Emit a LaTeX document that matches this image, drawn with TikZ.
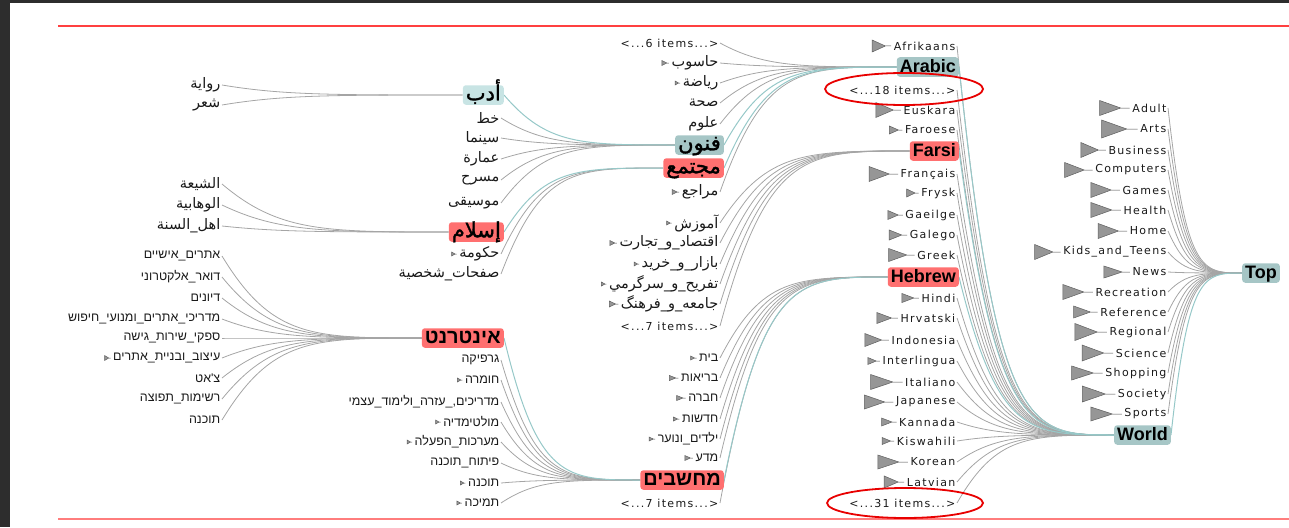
\documentclass[tikz,border=0pt]{standalone}
\usepackage{fontspec}
\usepackage{xcolor}
\usepackage{tikz}
\usetikzlibrary{calc,backgrounds}
\TeXXeTstate=1
\setmainfont{DejaVu Sans}[LetterSpace=12]
\newfontfamily\arabicfont[Script=Arabic]{DejaVu Sans}
\newfontfamily\arabicbold[Script=Arabic,FakeBold=1.6]{DejaVu Sans}
\newfontfamily\hebfont[Script=Hebrew]{Liberation Sans}
\newfontfamily\boldlat{Liberation Sans}
\newcommand\rtl[1]{\beginR#1\endR}
\definecolor{framedark}{RGB}{45,45,45}
\definecolor{rulered}{RGB}{255,64,64}
\definecolor{rulepink}{RGB}{255,125,125}
\definecolor{edgegray}{RGB}{165,165,165}
\definecolor{edgeteal}{RGB}{150,200,200}
\definecolor{boxteal}{RGB}{166,198,198}
\definecolor{boxlightteal}{RGB}{200,228,228}
\definecolor{boxred}{RGB}{255,112,112}
\definecolor{flaggray}{RGB}{150,150,150}
\definecolor{flagline}{RGB}{95,95,95}
\definecolor{textdark}{RGB}{25,25,25}
\definecolor{ringred}{RGB}{232,0,0}
\tikzset{
  lat-item/.style={anchor=east, inner sep=1.5pt, text=textdark,
    font=\fontsize{11}{13}\selectfont},
  ar-item/.style={anchor=east, inner sep=1.5pt, text=textdark,
    font=\fontsize{14.5}{16}\arabicfont},
  he-item/.style={anchor=east, inner sep=1.5pt, text=textdark,
    font=\fontsize{12.5}{14}\hebfont},
  parent-box/.style={anchor=east, rounded corners=3pt, inner xsep=3pt,
    inner ysep=3pt, text height=12pt, text depth=1.5pt, text=black},
  teal-parent/.style={parent-box, fill=boxteal, font=\fontsize{18}{20}\boldlat\bfseries},
  red-parent/.style={parent-box, fill=boxred, font=\fontsize{18}{20}\boldlat\bfseries},
  ar-teal-parent/.style={parent-box, fill=boxteal, font=\fontsize{21}{23}\arabicbold},
  ar-light-parent/.style={parent-box, fill=boxlightteal, font=\fontsize{21}{23}\arabicbold},
  ar-red-parent/.style={parent-box, fill=boxred, font=\fontsize{21}{23}\arabicbold},
  he-red-parent/.style={parent-box, fill=boxred, font=\fontsize{20}{22}\hebfont\bfseries},
  link-edge/.style={draw=edgegray, line width=0.8pt,
    to path={let \p1=(\tikztostart), \p2=(\tikztotarget) in
      .. controls ({\x1+0.25*(\x2-\x1)},\y2) and ({\x1+0.45*(\x2-\x1)},\y2) .. (\tikztotarget)}},
  focus-edge/.style={link-edge, draw=edgeteal, line width=1pt},
  flag-mark/.style={fill=flaggray, draw=flagline, line width=0.5pt, line join=miter},
  mark-ring/.style={draw=ringred, line width=1.8pt}
}

\begin{document}
\begin{tikzpicture}[x=1pt, y=-1pt]
\useasboundingbox (0,0) rectangle (1289,527);
% window frame and rules
\fill[framedark] (0,0) rectangle (10,527);
\fill[framedark] (0,0) rectangle (1289,3);
\draw[rulered, line width=1.6pt] (58,26) -- (1289,26);
\draw[rulepink, line width=2pt] (58,519) -- (1289,519);

% Root and its children
\node[teal-parent] (top) at (1280,273) {Top};
\node[lat-item] (adult) at (1168,108) {Adult};
\node[lat-item] (arts) at (1168,129) {Arts};
\node[lat-item] (business) at (1168,150) {Business};
\node[lat-item] (computers) at (1168,170) {Computers};
\node[lat-item] (games) at (1168,190) {Games};
\node[lat-item] (health) at (1168,210) {Health};
\node[lat-item] (home) at (1168,231) {Home};
\node[lat-item] (kids) at (1168,252) {Kids\_and\_Teens};
\node[lat-item] (news) at (1168,272) {News};
\node[lat-item] (recreation) at (1168,292) {Recreation};
\node[lat-item] (reference) at (1168,312) {Reference};
\node[lat-item] (regional) at (1168,332) {Regional};
\node[lat-item] (science) at (1168,353) {Science};
\node[lat-item] (shopping) at (1168,373) {Shopping};
\node[lat-item] (society) at (1168,394) {Society};
\node[lat-item] (sports) at (1168,414) {Sports};
\node[teal-parent] (world) at (1171,435) {World};

% World's children
\node[lat-item] (afrikaans) at (957,46) {Afrikaans};
\node[teal-parent] (arabic) at (959,67) {Arabic};
\node[lat-item] (items18) at (957,90) {<...18 items...>};
\node[lat-item] (euskara) at (957,110) {Euskara};
\node[lat-item] (faroese) at (957,130) {Faroese};
\node[red-parent] (farsi) at (959,151) {Farsi};
\node[lat-item] (francais) at (957,174) {Français};
\node[lat-item] (frysk) at (957,193) {Frysk};
\node[lat-item] (gaeilge) at (957,215) {Gaeilge};
\node[lat-item] (galego) at (957,235) {Galego};
\node[lat-item] (greek) at (957,255) {Greek};
\node[red-parent] (hebrew) at (959,277) {Hebrew};
\node[lat-item] (hindi) at (957,298) {Hindi};
\node[lat-item] (hrvatski) at (957,318) {Hrvatski};
\node[lat-item] (indonesia) at (957,340) {Indonesia};
\node[lat-item] (interlingua) at (957,361) {Interlingua};
\node[lat-item] (italiano) at (957,382) {Italiano};
\node[lat-item] (japanese) at (957,402) {Japanese};
\node[lat-item] (kannada) at (957,422) {Kannada};
\node[lat-item] (kiswahili) at (957,441) {Kiswahili};
\node[lat-item] (korean) at (957,462) {Korean};
\node[lat-item] (latvian) at (957,482) {Latvian};
\node[lat-item] (items31) at (957,503) {<...31 items...>};

% Arabic, Farsi and Hebrew children
\node[lat-item] (aitems6) at (720,43) {<...6 items...>};
\node[ar-item] (hasub) at (720,63) {\rtl{حاسوب}};
\node[ar-item] (riyada) at (720,83) {\rtl{رياضة}};
\node[ar-item] (siha) at (720,103) {\rtl{صحة}};
\node[ar-item] (ulum) at (720,124) {\rtl{علوم}};
\node[ar-teal-parent] (funun) at (724,145) {\rtl{فنون}};
\node[ar-red-parent] (mujtama) at (724,168) {\rtl{مجتمع}};
\node[ar-item] (maraji) at (720,192) {\rtl{مراجع}};
\node[ar-item] (amuzesh) at (720,223) {\rtl{آموزش}};
\node[ar-item] (eqtesad) at (720,243) {\rtl{اقتصاد\_و\_تجارت}};
\node[ar-item] (bazar) at (720,264) {\rtl{بازار\_و\_خريد}};
\node[ar-item] (tafrih) at (720,284) {\rtl{تفريح\_و\_سرگرمي}};
\node[ar-item] (jameh) at (720,304) {\rtl{جامعه\_و\_فرهنگ}};
\node[lat-item] (fitems7) at (720,326) {<...7 items...>};
\node[he-item] (bayit) at (720,358) {\rtl{בית}};
\node[he-item] (briut) at (720,378) {\rtl{בריאות}};
\node[he-item] (hevra) at (720,398) {\rtl{חברה}};
\node[he-item] (hadashot) at (720,419) {\rtl{חדשות}};
\node[he-item] (yeladim) at (720,439) {\rtl{ילדים\_ונוער}};
\node[he-item] (mada) at (720,458) {\rtl{מדע}};
\node[he-red-parent] (mahshevim) at (724,480) {\rtl{מחשבים}};
\node[lat-item] (hitems7) at (720,503) {<...7 items...>};

% Third level
\node[ar-light-parent] (adab) at (504,95) {\rtl{أدب}};
\node[ar-item] (khat) at (501,118) {\rtl{خط}};
\node[ar-item] (sinama) at (501,138) {\rtl{سينما}};
\node[ar-item] (imara) at (501,159) {\rtl{عمارة}};
\node[ar-item] (masrah) at (501,180) {\rtl{مسرح}};
\node[ar-item] (musiqa) at (501,203) {\rtl{موسيقى}};
\node[ar-red-parent] (islam) at (504,232) {\rtl{إسلام}};
\node[ar-item] (hukuma) at (501,254) {\rtl{حكومة}};
\node[ar-item] (safahat) at (501,274) {\rtl{صفحات\_شخصية}};
\node[he-red-parent] (internet) at (504,338) {\rtl{אינטרנט}};
\node[he-item] (grafika) at (501,360) {\rtl{גרפיקה}};
\node[he-item] (hamara) at (501,380) {\rtl{חומרה}};
\node[he-item] (madrichim) at (501,402) {\rtl{מדריכים,\_עזרה\_ולימוד\_עצמי}};
\node[he-item] (multimedia) at (501,422) {\rtl{מולטימדיה}};
\node[he-item] (maarchot) at (501,442) {\rtl{מערכות\_הפעלה}};
\node[he-item] (pituach) at (501,463) {\rtl{פיתוח\_תוכנה}};
\node[he-item] (tochna) at (501,483) {\rtl{תוכנה}};
\node[he-item] (tmicha) at (501,503) {\rtl{תמיכה}};

% Fourth level
\node[ar-item] (riwaya) at (222,85) {\rtl{رواية}};
\node[ar-item] (shir) at (222,105) {\rtl{شعر}};
\node[ar-item] (shia) at (222,184) {\rtl{الشيعة}};
\node[ar-item] (wahabiya) at (222,205) {\rtl{الوهابية}};
\node[ar-item] (sunna) at (222,226) {\rtl{اهل\_السنة}};
\node[he-item] (atarim) at (222,256) {\rtl{אתרים\_אישיים}};
\node[he-item] (doar) at (222,277) {\rtl{דואר\_אלקטרוני}};
\node[he-item] (diyunim) at (222,298) {\rtl{דיונים}};
\node[he-item] (madrichey) at (222,319) {\rtl{מדריכי\_אתרים\_ומנועי\_חיפוש}};
\node[he-item] (sapakey) at (222,338) {\rtl{ספקי\_שירות\_גישה}};
\node[he-item] (itsuv) at (222,358) {\rtl{עיצוב\_ובניית\_אתרים}};
\node[he-item] (chat) at (222,378) {\rtl{צ'אט}};
\node[he-item] (reshimot) at (222,399) {\rtl{רשימות\_תפוצה}};
\node[he-item] (tochnaA) at (222,420) {\rtl{תוכנה}};

% Subtree flags
\foreach \nd/\fw/\fh in {adult/30/15, arts/36/18, business/25/15, computers/28/15,
    games/29/15, health/30/15, home/29/15, kids/26/15, news/26/12, recreation/30/15,
    reference/24/12, regional/32/17, science/31/16, shopping/31/14, society/33/16,
    sports/31/14, afrikaans/19/12, euskara/25/15, faroese/13/8, francais/29/15,
    frysk/12/8, gaeilge/15/9, galego/18/10, greek/26/13, hindi/17/9, hrvatski/21/11,
    indonesia/24/13, interlingua/12/7, italiano/32/15, japanese/29/14, kannada/15/8,
    kiswahili/12/7, korean/30/14, latvian/20/12, hasub/7/5, riyada/5/4, maraji/7/5,
    amuzesh/5/4, eqtesad/7/5, bazar/5/4, tafrih/5/4, jameh/9/6, bayit/6/4, briut/9/5,
    hevra/9/5, hadashot/6/4, yeladim/6/4, mada/8/5, hukuma/5/4, hamara/5/4,
    multimedia/5/4, maarchot/5/4, tochna/5/4, tmicha/5/4, itsuv/6/5}
  \filldraw[flag-mark] ([xshift=-1pt]\nd.west) -- ++(-0.3*\fw,0) -- ++(-0.7*\fw,0.5*\fh)
    -- ++(0,-\fh) -- ++(0.7*\fw,0.5*\fh);

% Connectors
\begin{scope}[on background layer]
\foreach \c in {adult,arts,business,computers,games,health,home,kids,news,
    recreation,reference,regional,science,shopping,society,sports}
  \draw[link-edge] (\c.east) to (top.west);
\draw[focus-edge] (world.east) to (top.west);
\foreach \c in {afrikaans,items18,euskara,faroese,francais,frysk,gaeilge,galego,greek,
    hindi,hrvatski,indonesia,interlingua,italiano,japanese,kannada,kiswahili,korean,
    latvian,items31}
  \draw[link-edge] (\c.east) to (world.west);
\foreach \c in {arabic,farsi,hebrew}
  \draw[focus-edge] (\c.east) to (world.west);
\foreach \c in {aitems6,hasub,riyada,siha,ulum,maraji}
  \draw[link-edge] (\c.east) to (arabic.west);
\foreach \c in {funun,mujtama}
  \draw[focus-edge] (\c.east) to (arabic.west);
\foreach \c in {amuzesh,eqtesad,bazar,tafrih,jameh,fitems7}
  \draw[link-edge] (\c.east) to (farsi.west);
\foreach \c in {bayit,briut,hevra,hadashot,yeladim,mada,hitems7}
  \draw[link-edge] (\c.east) to (hebrew.west);
\draw[focus-edge] (mahshevim.east) to (hebrew.west);
\foreach \c in {khat,sinama,imara,masrah,musiqa}
  \draw[link-edge] (\c.east) to (funun.west);
\draw[focus-edge] (adab.east) to (funun.west);
\foreach \c in {hukuma,safahat}
  \draw[link-edge] (\c.east) to (mujtama.west);
\draw[focus-edge] (islam.east) to (mujtama.west);
\foreach \c in {grafika,hamara,madrichim,multimedia,maarchot,pituach,tochna,tmicha}
  \draw[link-edge] (\c.east) to (mahshevim.west);
\draw[focus-edge] (internet.east) to (mahshevim.west);
\foreach \c in {riwaya,shir}
  \draw[link-edge] (\c.east) to (adab.west);
\foreach \c in {shia,wahabiya,sunna}
  \draw[link-edge] (\c.east) to (islam.west);
\foreach \c in {atarim,doar,diyunim,madrichey,sapakey,itsuv,chat,reshimot,tochnaA}
  \draw[link-edge] (\c.east) to (internet.west);
\end{scope}

% Highlight rings
\draw[mark-ring] (904,89) ellipse [x radius=79, y radius=16];
\draw[mark-ring] (905,503) ellipse [x radius=78, y radius=15];
\end{tikzpicture}
\end{document}
